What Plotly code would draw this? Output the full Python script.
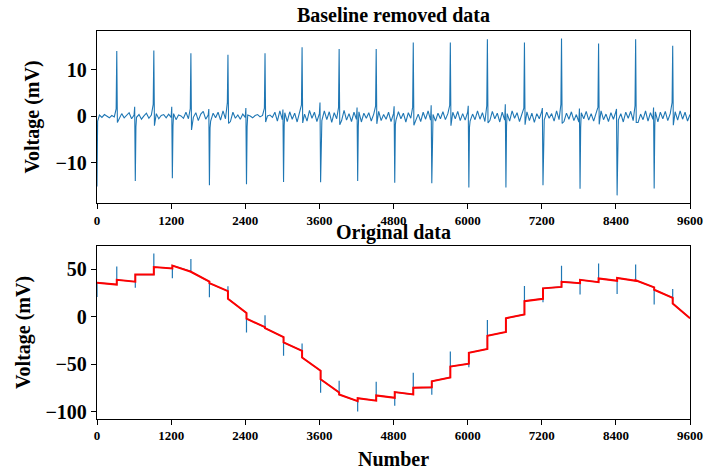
import plotly.graph_objects as go

# ---------------- data ----------------
# positive R-like spikes (sample number, height in mV)
pos_x = [320, 920, 1520, 2120, 2720, 3320, 3920, 4520, 5120, 5720, 6320, 6920, 7520, 8120, 8720, 9320]
pos_h = [14.1, 14.2, 13.6, 13.3, 13.6, 14.9, 14.5, 14.5, 15.9, 15.9, 16.6, 15.9, 16.8, 15.7, 16.6, 15.2]
pos_pre = [1.6, 2.6, 1.7, 3.0, 1.8, 2.5, 1.9, 2.2, 2.0, 2.4, 2.3, 1.8, 2.6, 2.0, 2.3, 3.0]
pos_post = [-1.3, -2.0, -2.9, -1.5, -1.2, -1.4, -1.8, -1.6, -1.9, -2.0, -1.4, -1.8, -1.5, -1.7, -1.3, -1.9]

# negative spikes
neg_x = [0, 620, 1220, 1820, 2420, 3020, 3620, 4220, 4820, 5420, 6020, 6620, 7220, 7820, 8420, 9020]
neg_h = [-15.1, -13.9, -13.3, -14.8, -14.6, -14.1, -14.2, -13.9, -14.3, -14.4, -15.3, -15.3, -14.8, -15.6, -17.0, -15.5]
neg_pre = [0.0, 2.1, 2.1, 1.6, 1.8, 1.5, 3.0, 1.9, 2.2, 2.4, 2.3, 2.6, 1.8, 1.7, 1.6, 1.9]
neg_post = [-1.0, -2.2, -2.0, -2.5, -2.3, -2.0, -2.4, -2.2, -1.8, -2.1, -2.3, -2.0, -1.9, -2.4, -2.2, -2.0]

# background noise of the baseline-removed signal, sampled every 40 samples
noise_x = list(range(0, 9601, 40))
noise_y = [
    0.0, 0.3, -0.2, 0.4, 0.1, -0.3, 0.2, -0.1, 0.5, -0.4,
    0.6, -0.3, 0.2, 0.8, -0.5, 0.3, -0.2, 0.4, -0.6, 0.1,
    0.7, -0.4, 0.3, -0.1, 0.6, -0.5, 0.2, 0.4, -0.3, 0.5,
    -0.2, 0.6, -0.7, 0.3, 0.1, -0.4, 0.9, -0.5, 0.4, -0.2,
    0.8, -0.9, 0.5, 1.1, -0.6, 0.3, -1.0, 0.7, -0.3, 0.9,
    -0.8, 1.2, -0.5, 0.6, -1.1, 0.9, -0.4, 0.3, -0.6, 0.5,
    -0.2, 0.3, 0.1, -0.3, 0.2, 0.4, -0.1, 0.2, -0.3, 0.1,
    0.3, -0.2, 0.9, -1.0, 1.2, -0.7, 0.8, -1.1, 1.0, -0.6,
    0.7, -1.2, 1.1, -0.8, 0.5, -1.0, 1.3, -0.4, 0.9, -1.1,
    0.6, -0.9, 1.2, -0.7, 1.0, -1.3, 0.8, -0.5, 1.1, -0.9,
    1.3, -0.8, 0.6, -1.1, 0.9, -0.6, 1.0, -1.2, 0.7, -0.4,
    0.8, -1.0, 0.5, -0.7, 1.1, -0.9, 0.4, -0.6, 0.9, -1.1,
    0.6, -0.8, 1.0, -0.5, 0.7, -1.2, 0.8, -0.4, 1.0, -0.9,
    0.5, -1.1, 0.9, -0.6, 1.2, -0.8, 0.4, -1.0, 0.7, -0.5,
    1.0, -0.7, 0.6, -1.2, 0.9, -0.5, 1.1, -0.9, 0.6, -0.8,
    0.9, -1.0, 0.5, -0.7, 1.2, -0.6, 0.8, -1.1, 0.4, -0.9,
    1.1, -0.5, 0.7, -1.2, 0.9, -0.8, 0.6, -1.0, 1.2, -0.4,
    0.8, -1.1, 0.5, -0.6, 1.0, -0.9, 0.7, -1.3, 0.6, -0.5,
    1.1, -0.8, 0.9, -0.4, 0.6, -1.0, 1.2, -0.7, 0.5, -1.1,
    0.7, -0.6, 1.0, -0.9, 0.4, -1.2, 0.8, -0.5, 1.1, -0.8,
    0.6, -1.0, 0.9, -0.5, 1.2, -0.7, 0.5, -1.1, 0.8, -0.6,
    1.0, -0.8, 0.6, -1.2, 0.9, -0.4, 1.1, -0.9, 0.7, -1.3,
    0.5, -0.7, 1.2, -1.0, 0.8, -0.6, 1.0, -1.2, 0.9, -0.5,
    1.1, -0.9, 0.6, -1.3, 1.0, -0.8, 1.2, -0.6, 0.9, -1.0,
    0.4,
]

# wandering baseline (red curve): level just before / just after each spike event
event_x = [0, 320, 620, 920, 1220, 1520, 1820, 2120, 2420, 2720, 3020, 3320, 3620, 3920, 4220, 4520,
           4820, 5120, 5420, 5720, 6020, 6320, 6620, 6920, 7220, 7520, 7820, 8120, 8420, 8720, 9020, 9320]
base_before = [None, 34, 37, 44.5, 51, 48, 37, 27, 4, -11, -21.5, -36, -57, -80, -89, -88.5,
               -85.5, -82, -74.5, -64, -49.5, -34, -16, 2.5, 19, 31.5, 35.5, 36.5, 38, 38, 31, 20]
base_after = [36, 39, 44.5, 52.5, 54, 47.5, 35.5, 19, -2, -12, -27, -43, -66, -82, -86, -83,
              -79.5, -75, -68, -52.5, -38, -20, -1.5, 16.5, 30, 37, 39, 40.5, 41, 38.5, 28.5, 14]
end_x = 9600
end_y = -1.5

x_ticks = [0, 1200, 2400, 3600, 4800, 6000, 7200, 8400, 9600]

# ---------------- build traces ----------------
spikes = []
for x, h, a, b in zip(pos_x, pos_h, pos_pre, pos_post):
    spikes.append((x, h, a, b))
for x, h, a, b in zip(neg_x, neg_h, neg_pre, neg_post):
    spikes.append((x, h, a, b))
spike_pos = [s[0] for s in spikes]

pts = [(x, y) for x, y in zip(noise_x, noise_y) if all(abs(x - s) > 15 for s in spike_pos)]
for x, h, a, b in spikes:
    if x > 0:
        pts.append((x - 10, a))
    pts.append((x, h))
    pts.append((x + 10, b))
pts.sort(key=lambda p: p[0])
top_x = [p[0] for p in pts]
top_y = [p[1] for p in pts]

spike_h = dict(zip(pos_x, pos_h))
spike_h.update(dict(zip(neg_x, neg_h)))

red_x, red_y, orig_x, orig_y = [], [], [], []
for ex, bb, ba in zip(event_x, base_before, base_after):
    if bb is not None:
        red_x.append(ex); red_y.append(bb)
        orig_x.append(ex); orig_y.append(bb)
    red_x.append(ex); red_y.append(ba)
    orig_x += [ex, ex]
    orig_y += [ba + spike_h[ex], ba]
red_x.append(end_x); red_y.append(end_y)
orig_x.append(end_x); orig_y.append(end_y)

BLUE = "#1f77b4"
FONT = "Liberation Serif"

fig = go.Figure()
fig.add_trace(go.Scatter(x=top_x, y=top_y, mode="lines", line=dict(color=BLUE, width=1.1),
                         xaxis="x", yaxis="y", showlegend=False, hoverinfo="skip"))
fig.add_trace(go.Scatter(x=orig_x, y=orig_y, mode="lines", line=dict(color=BLUE, width=1.2),
                         xaxis="x2", yaxis="y2", showlegend=False, hoverinfo="skip"))
fig.add_trace(go.Scatter(x=red_x, y=red_y, mode="lines", line=dict(color="red", width=2),
                         xaxis="x2", yaxis="y2", showlegend=False, hoverinfo="skip"))

H = 471.0
axis_common = dict(showgrid=False, zeroline=False, showline=True, linecolor="black", linewidth=1.3,
                   mirror=True, ticks="outside", ticklen=5, tickwidth=1.2, tickcolor="black")
xfont = dict(family=FONT, size=13, color="black", weight="bold")
yfont = dict(family=FONT, size=20, color="black", weight="bold")
tfont = dict(family=FONT, size=20, color="black", weight="bold")

fig.update_layout(
    width=704, height=471,
    margin=dict(l=97, r=14, t=0, b=0),
    plot_bgcolor="white", paper_bgcolor="white",
    xaxis=dict(domain=[0, 1], anchor="y", range=[0, 9600], tickvals=x_ticks, tickfont=xfont,
               **axis_common),
    yaxis=dict(domain=[(H - 205) / H, (H - 31) / H], anchor="x", range=[-18.7, 18.45],
               tickvals=[-10, 0, 10], tickfont=yfont,
               title=dict(text="Voltage (mV)", font=tfont, standoff=10), **axis_common),
    xaxis2=dict(domain=[0, 1], anchor="y2", range=[0, 9600], tickvals=x_ticks, tickfont=xfont,
                title=dict(text="Number", font=tfont, standoff=9), **axis_common),
    yaxis2=dict(domain=[(H - 422.3) / H, (H - 248.3) / H], anchor="x2", range=[-107.6, 74.5],
                tickvals=[-100, -50, 0, 50], tickfont=yfont,
                title=dict(text="Voltage (mV)", font=tfont, standoff=9), **axis_common),
    annotations=[
        dict(text="Baseline removed data", x=0.5, y=(H - 15) / H, xref="paper", yref="paper",
             xanchor="center", yanchor="middle", showarrow=False, font=tfont),
        dict(text="Original data", x=0.5, y=(H - 234) / H, xref="paper", yref="paper",
             xanchor="center", yanchor="middle", showarrow=False, font=tfont),
    ],
)

fig.write_html("out.html")
